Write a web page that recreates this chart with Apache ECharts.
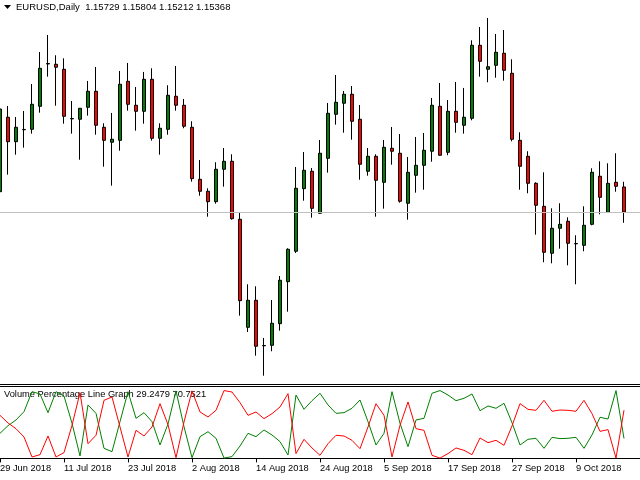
<!DOCTYPE html>
<html>
<head>
<meta charset="utf-8">
<title>EURUSD,Daily</title>
<script src="https://cdn.jsdelivr.net/npm/echarts@6/dist/echarts.min.js"></script>
<style>
  html, body { margin: 0; padding: 0; background: #fff; overflow: hidden; }
  /* the first bar sits on the left edge, half cut, like the terminal window */
  #chart { width: 648px; height: 480px; margin-left: -4px; }
</style>
</head>
<body>
<div id="chart"></div>
<script>
// daily bars 29 Jun 2018 .. 17 Oct 2018
const opens = [
    1.15661, 1.16736, 1.16383, 1.16560, 1.16562, 1.16894, 1.17505, 1.17501, 1.17429, 1.16712,
    1.16707, 1.16880, 1.17111, 1.16591, 1.16375, 1.16403, 1.17255, 1.16909, 1.16822, 1.17284,
    1.16432, 1.16562, 1.17039, 1.16909, 1.16591, 1.15840, 1.15667, 1.15517, 1.15985, 1.16100,
    1.15263, 1.13703, 1.14093, 1.13440, 1.13443, 1.13755, 1.14362, 1.14801, 1.15705, 1.15956,
    1.15349, 1.16143, 1.16779, 1.16938, 1.17068, 1.16707, 1.15956, 1.16172, 1.15797, 1.16288,
    1.16216, 1.15494, 1.15898, 1.16042, 1.16245, 1.16894, 1.16230, 1.16822, 1.16620, 1.16721,
    1.17775, 1.17429, 1.17486, 1.17660, 1.17371, 1.16403, 1.16172, 1.15782, 1.15450, 1.14772,
    1.15133, 1.15234, 1.14913, 1.14887, 1.15190, 1.15884, 1.15364, 1.15797, 1.15729
];
const closes = [
    1.16855, 1.16383, 1.16591, 1.16555, 1.16923, 1.17443, 1.17512, 1.17458, 1.16750, 1.16718,
    1.16865, 1.17111, 1.16620, 1.16403, 1.16418, 1.17212, 1.16923, 1.16822, 1.17284, 1.16432,
    1.16577, 1.17053, 1.16909, 1.16606, 1.15849, 1.15667, 1.15517, 1.15985, 1.16100, 1.15271,
    1.14087, 1.14093, 1.13429, 1.13435, 1.13761, 1.14382, 1.14829, 1.15710, 1.15970, 1.15421,
    1.16216, 1.16793, 1.16952, 1.17068, 1.16678, 1.16057, 1.16172, 1.15826, 1.16302, 1.16245,
    1.15523, 1.15941, 1.16042, 1.16259, 1.16909, 1.16187, 1.16822, 1.16663, 1.16736, 1.17775,
    1.17544, 1.17466, 1.17674, 1.17414, 1.16418, 1.16028, 1.15782, 1.15465, 1.14786, 1.15133,
    1.15190, 1.14916, 1.14908, 1.15176, 1.15941, 1.15580, 1.15782, 1.15739, 1.15368
];
const lows = [
    1.15575, 1.15907, 1.16195, 1.16297, 1.16499, 1.16802, 1.17322, 1.16903, 1.16643, 1.16499,
    1.16123, 1.16759, 1.16484, 1.16022, 1.15748, 1.16253, 1.16831, 1.16542, 1.16643, 1.16398,
    1.16195, 1.16484, 1.16831, 1.16577, 1.15806, 1.15603, 1.15300, 1.15488, 1.15733, 1.15257,
    1.13871, 1.13635, 1.13293, 1.13004, 1.13357, 1.13654, 1.13928, 1.14776, 1.15531, 1.15286,
    1.15343, 1.15936, 1.16629, 1.16513, 1.16412, 1.15834, 1.15892, 1.15300, 1.15416, 1.16051,
    1.15502, 1.15257, 1.15647, 1.15690, 1.16094, 1.16180, 1.16187, 1.16513, 1.16499, 1.16692,
    1.17322, 1.17241, 1.17307, 1.17264, 1.16389, 1.15690, 1.15638, 1.15040, 1.14642, 1.14627,
    1.14838, 1.14598, 1.14324, 1.14801, 1.15176, 1.15335, 1.15361, 1.15661, 1.15212
];
const highs = [
    1.16913, 1.16899, 1.16740, 1.16826, 1.17216, 1.17678, 1.17924, 1.17631, 1.17587, 1.16971,
    1.16870, 1.17260, 1.17462, 1.16649, 1.16798, 1.17404, 1.17520, 1.17173, 1.17390, 1.17443,
    1.16649, 1.17198, 1.17476, 1.17000, 1.16678, 1.16119, 1.15710, 1.16086, 1.16292, 1.16201,
    1.15368, 1.14324, 1.14295, 1.13549, 1.14097, 1.14444, 1.14844, 1.16018, 1.16234, 1.16003,
    1.16408, 1.16942, 1.17346, 1.17115, 1.17187, 1.16913, 1.16292, 1.16201, 1.16408, 1.16595,
    1.16494, 1.16162, 1.16451, 1.16509, 1.17014, 1.17231, 1.16985, 1.17245, 1.17159, 1.17847,
    1.18039, 1.18169, 1.17938, 1.17996, 1.17573, 1.16519, 1.16245, 1.15797, 1.15941, 1.15421,
    1.15494, 1.15291, 1.15032, 1.15450, 1.15999, 1.16100, 1.16071, 1.16216, 1.15804
];

// Volume Percentage Line Graph buffers
const volGreen = [
    36.8, 48.0, 56.4, 68.6, 97.9, 94.5, 67.1, 97.9, 91.5, 51.5,
    3.6, 78.4, 66.1, 14.8, 9.9, 53.9, 97.9, 58.8, 67.1, 53.9,
    19.7, 50.5, 99.0, 46.6, 1.0, 31.9, 39.2, 29.5, 0.5, 2.6,
    18.2, 36.8, 31.9, 41.7, 34.4, 24.6, 5.0, 93.0, 72.0, 84.7,
    95.5, 78.4, 66.1, 67.1, 73.5, 85.7, 53.9, 19.7, 36.8, 97.9,
    51.5, 17.2, 56.4, 58.8, 95.5, 99.5, 93.0, 84.7, 88.1, 94.5,
    70.0, 76.9, 73.5, 80.8, 52.4, 19.7, 28.0, 29.5, 14.8, 30.9,
    29.0, 29.5, 30.9, 14.8, 34.4, 60.3, 57.8, 99.5, 29.2479
];
const volRed = [
    63.2, 52.0, 43.6, 31.4, 2.1, 5.5, 32.9, 2.1, 8.5, 48.5,
    96.4, 21.6, 33.9, 85.2, 90.1, 46.1, 2.1, 41.2, 32.9, 46.1,
    80.3, 49.5, 1.0, 53.4, 99.0, 68.1, 60.8, 70.5, 99.5, 97.4,
    81.8, 63.2, 68.1, 58.3, 65.6, 75.4, 95.0, 7.0, 28.0, 15.3,
    4.5, 21.6, 33.9, 32.9, 26.5, 14.3, 46.1, 80.3, 63.2, 2.1,
    48.5, 82.8, 43.6, 41.2, 4.5, 0.5, 7.0, 15.3, 11.9, 5.5,
    30.0, 23.1, 26.5, 19.2, 47.6, 80.3, 72.0, 70.5, 85.2, 69.1,
    71.0, 70.5, 69.1, 85.2, 65.6, 39.7, 42.2, 0.5, 70.7521
];

// one label every 8 bars
const tickLabels = [
    '29 Jun 2018', '11 Jul 2018', '23 Jul 2018', '2 Aug 2018', '14 Aug 2018',
    '24 Aug 2018', '5 Sep 2018', '17 Sep 2018', '27 Sep 2018', '9 Oct 2018'
];

const FONT = '"Liberation Sans", Arial, sans-serif';
const OFFSET = 4; // the canvas starts 4px left of the window
const slots = 81; // 79 bars + 2 empty slots of chart shift
const categories = [];
for (let i = 0; i < slots; i++) categories.push('b' + i);

const candles = opens.map((o, i) => [o, closes[i], lows[i], highs[i]]);
const last = opens.length - 1;
const isTick = (index) => index % 8 === 0 && index <= last;

const chart = echarts.init(document.getElementById('chart'), null, { renderer: 'canvas' });

chart.setOption({
    animation: false,
    backgroundColor: '#ffffff',
    grid: [
        { left: 0, right: 0, top: 0, height: 384 },
        { left: 0, right: 0, top: 386, height: 73.5 }
    ],
    xAxis: [
        {
            gridIndex: 0, type: 'category', data: categories, boundaryGap: true,
            axisLine: { show: true, lineStyle: { color: '#000', width: 1 } },
            axisTick: { show: false }, axisLabel: { show: false }, splitLine: { show: false }
        },
        {
            gridIndex: 1, type: 'category', data: categories, boundaryGap: true, position: 'bottom',
            axisLine: { show: true, lineStyle: { color: '#000', width: 1 } },
            axisTick: { show: true, interval: isTick, alignWithLabel: true, length: 4, lineStyle: { color: '#000' } },
            axisLabel: {
                show: true, interval: isTick, align: 'left', margin: 4,
                fontFamily: FONT, fontSize: 9.3, color: '#000',
                formatter: (value, index) => tickLabels[index / 8] || ''
            },
            splitLine: { show: false }
        },
        {
            gridIndex: 1, type: 'category', data: categories, boundaryGap: true, position: 'top',
            axisLine: { show: true, lineStyle: { color: '#000', width: 1 } },
            axisTick: { show: false }, axisLabel: { show: false }, splitLine: { show: false }
        }
    ],
    yAxis: [
        { gridIndex: 0, type: 'value', min: 1.12884, max: 1.18429, show: false, splitLine: { show: false } },
        { gridIndex: 1, type: 'value', min: -1.6, max: 106.2, show: false, splitLine: { show: false } }
    ],
    graphic: [
        {
            type: 'polygon', silent: true,
            shape: { points: [[4 + OFFSET, 5], [11 + OFFSET, 5], [7.5 + OFFSET, 9]] },
            style: { fill: '#000' }
        },
        {
            type: 'text', left: 16 + OFFSET, top: 2, silent: true,
            style: {
                text: 'EURUSD,Daily  1.15729 1.15804 1.15212 1.15368',
                fill: '#000', font: '9.5px ' + FONT
            }
        },
        {
            type: 'text', left: 4 + OFFSET, top: 390, silent: true,
            style: {
                text: 'Volume Percentage Line Graph 29.2479 70.7521',
                fill: '#000', font: '9.3px ' + FONT
            }
        }
    ],
    series: [
        {
            // bid line at the last close
            name: 'bid', type: 'line', xAxisIndex: 0, yAxisIndex: 0,
            data: [], symbol: 'none', silent: true,
            markLine: {
                silent: true, symbol: 'none', animation: false, precision: 5,
                label: { show: false },
                lineStyle: { color: '#c0c0c0', type: 'solid', width: 1 },
                data: [{ yAxis: closes[last] }]
            }
        },
        {
            name: 'EURUSD', type: 'candlestick', xAxisIndex: 0, yAxisIndex: 0,
            data: candles, barWidth: 4,
            itemStyle: {
                color: '#008000', color0: '#ff0000',
                borderColor: '#000', borderColor0: '#000', borderColorDoji: '#000',
                borderWidth: 1
            }
        },
        {
            name: 'vol green', type: 'line', xAxisIndex: 1, yAxisIndex: 1,
            data: volGreen, showSymbol: false, symbol: 'none',
            lineStyle: { color: '#008000', width: 1 }
        },
        {
            name: 'vol red', type: 'line', xAxisIndex: 1, yAxisIndex: 1,
            data: volRed, showSymbol: false, symbol: 'none',
            lineStyle: { color: '#ff0000', width: 1 }
        }
    ]
});
</script>
</body>
</html>
